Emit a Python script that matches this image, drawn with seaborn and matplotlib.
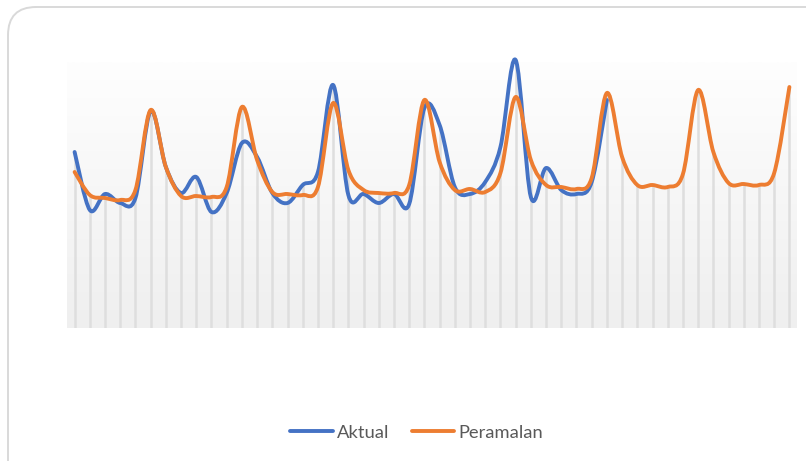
import numpy as np
import pandas as pd
import matplotlib
matplotlib.use("Agg")
import matplotlib.pyplot as plt
import seaborn as sns
from matplotlib.path import Path
from matplotlib.patches import PathPatch, FancyBboxPatch
from matplotlib.lines import Line2D

# values (hidden y axis, arbitrary units)
aktual = [176, 118, 134, 125, 130, 217, 161, 135, 151, 116, 135, 185,
          171, 135, 125, 143, 156, 243, 133, 134, 125, 134, 124, 220,
          203, 141, 134, 146, 181, 268, 131, 160, 138, 134, 146, 228]
peramalan = [156, 133, 130, 128, 138, 218, 161, 132, 132, 131, 141, 221,
             168, 136, 134, 133, 141, 225, 158, 138, 135, 135, 143, 228,
             166, 138, 139, 136, 155, 231, 168, 143, 141, 139, 150, 235,
             171, 143, 143, 141, 154, 238, 176, 145, 144, 143, 155, 241]
series_names = ["Aktual", "Peramalan"]
colors = ["#4472C4", "#ED7D31"]

sns.set_theme(style="white")
plt.rcParams["font.family"] = ["Lato", "DejaVu Sans"]


def smooth_path(y):
    # Excel-style smoothed line: cubic Bezier segments through every point
    x = np.arange(len(y), dtype=float)
    y = np.asarray(y, dtype=float)
    pts = np.column_stack([x, y])
    ext = np.vstack([pts[0], pts, pts[-1]])
    verts = [pts[0]]
    codes = [Path.MOVETO]
    for i in range(len(pts) - 1):
        p0, p1, p2, p3 = ext[i], ext[i + 1], ext[i + 2], ext[i + 3]
        c1 = p1 + (p2 - p0) / 6.0
        c2 = p2 - (p3 - p1) / 6.0
        verts += [c1, c2, p2]
        codes += [Path.CURVE4] * 3
    return Path(verts, codes)


fig = plt.figure(figsize=(8.06, 4.61), dpi=100)
fig.patch.set_facecolor("white")

# rounded outer frame
frame = FancyBboxPatch((8 / 806, -0.1), 1.2, 1 - 7 / 461 + 0.1,
                       boxstyle="round,pad=0,rounding_size=0.035",
                       transform=fig.transFigure, fill=False,
                       edgecolor="#d9d9d9", linewidth=1.4, zorder=0,
                       mutation_aspect=806 / 461)
fig.patches.append(frame)

ax = fig.add_axes([67 / 806, 1 - 328 / 461, 730 / 806, 266 / 461])
n = len(peramalan)
ax.set_xlim(-0.5, n - 0.5)
ax.set_ylim(0, 266)

# plot-area gradient
grad = np.linspace(0, 1, 256).reshape(-1, 1)
ax.imshow(grad, extent=(-0.5, n - 0.5, 0, 266), aspect="auto",
          cmap=matplotlib.colors.LinearSegmentedColormap.from_list(
              "bg", ["#efefef", "#fefefe"]), origin="lower", zorder=0)

# drop lines from highest series down to axis
df = pd.DataFrame({"idx": np.arange(n), "Peramalan": peramalan})
df["Aktual"] = pd.Series(aktual)
top = df[["Aktual", "Peramalan"]].max(axis=1)
ax.vlines(df["idx"], 0, top, colors="#dedede", linewidth=1.8, zorder=1)

for vals, c in zip([aktual, peramalan], colors):
    ax.add_patch(PathPatch(smooth_path(vals), facecolor="none", edgecolor=c,
                           linewidth=2.8, capstyle="round", joinstyle="round",
                           zorder=3, clip_on=False))

for s in ax.spines.values():
    s.set_visible(False)
ax.set_xticks([])
ax.set_yticks([])

handles = [Line2D([], [], color=c, linewidth=2.8) for c in colors]
fig.legend(handles, series_names, loc="center", bbox_to_anchor=(0.517, 0.061),
           ncol=2, frameon=False, fontsize=13.2, handlelength=2.3,
           handletextpad=0.25, columnspacing=1.2, labelcolor="#595959")

fig.savefig("out.png", dpi=100)
